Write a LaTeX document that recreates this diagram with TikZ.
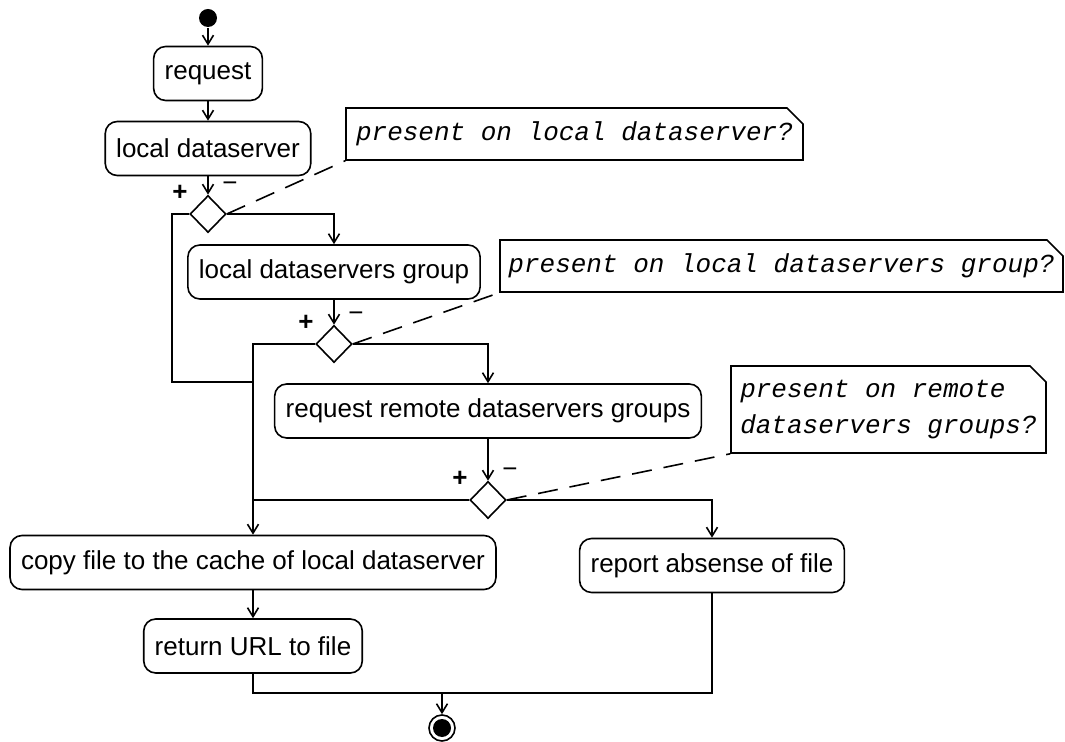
\documentclass[tikz,border=0pt]{standalone}
\usepackage{fontspec}
\setmainfont{Liberation Sans}
\setmonofont{Liberation Mono}
\usetikzlibrary{shapes,arrows.meta}

\begin{document}
\begin{tikzpicture}[x=0.5pt,y=-0.5pt,line width=0.8pt,>={Straight Barb[length=4.5pt,width=5.5pt]}]
\tikzstyle{act} = [rectangle,rounded corners=6pt,draw=black,fill=white,minimum height=27pt,inner xsep=5.5pt,font=\fontsize{13}{15}\selectfont]
\tikzstyle{dec} = [diamond,draw=black,fill=white,inner sep=0pt,minimum width=18pt,minimum height=18.5pt]
\tikzstyle{note} = [chamfered rectangle,chamfered rectangle corners=north east,chamfered rectangle xsep=4pt,chamfered rectangle ysep=4pt,draw=black,fill=white,inner sep=0pt,align=left,font=\fontsize{13}{18}\selectfont\ttfamily\itshape]
\tikzstyle{sign} = [inner sep=0pt,font=\fontsize{13}{15}\selectfont]
\tikzstyle{cmt} = [dash pattern=on 10pt off 6pt]

\useasboundingbox (0,0) rectangle (1065,742);

\node[circle,fill=black,inner sep=0pt,minimum size=9pt](start) at (208,18) {};
\node[act](request) at (208,73.5) {request};
\node[act](localds) at (208,148.5) {local dataserver};
\node[dec](d1) at (208,214) {};
\node[act](grp) at (334,272) {local dataservers group};
\node[dec](d2) at (334,344) {};
\node[act](remote) at (488,411) {request remote dataservers groups};
\node[dec](d3) at (488,500) {};
\node[act](copy) at (253,562.5) {copy file to the cache of local dataserver};
\node[act](report) at (712,565.5) {report absense of file};
\node[act](ret) at (253,646) {return URL to file};
\node[circle,draw=black,inner sep=0pt,minimum size=13pt,path picture={\fill (path picture bounding box.center) circle (4.5pt);}](end) at (442,728) {};

\node[note,minimum width=228.5pt,minimum height=26pt](n1) at (574.5,134) {present on local dataserver?};
\node[note,minimum width=281.5pt,minimum height=26pt](n2) at (781.5,266) {present on local dataservers group?};
\node[note,minimum width=157.5pt,minimum height=43.5pt](n3) at (888.5,409.5) {present on remote\\dataservers groups?};

\node[sign](p1) at (180,193) {\textbf{+}};
\node[sign](m1) at (230,187) {−};
\node[sign](p2) at (306,323) {\textbf{+}};
\node[sign](m2) at (356,317) {−};
\node[sign](p3) at (460,479) {\textbf{+}};
\node[sign](m3) at (510,473) {−};

\coordinate (loop) at (172,382);
\coordinate (merge) at (442,693);

\draw[->] (start) -- (request);
\draw[->] (request) -- (localds);
\draw[->] (localds) -- (d1);
\draw[->] (d1.east) -| (grp);
\draw (d1.west) -| (loop) -- (loop -| copy.north);
\draw[->] (grp) -- (d2);
\draw[->] (d2.east) -| (remote);
\draw[->] (d2.west) -| (copy);
\draw[->] (remote) -- (d3);
\draw (d3.west) -- (d3.west -| copy.north);
\draw[->] (d3.east) -| (report);
\draw[->] (copy) -- (ret);
\draw (ret) |- (merge) -| (report);
\draw[->] (merge) -- (end);

\draw[cmt] (d1.east) -- (n1.south west);
\draw[cmt] (d2.east) -- (n2.south west);
\draw[cmt] (d3.east) -- (n3.south west);

\end{tikzpicture}
\end{document}
